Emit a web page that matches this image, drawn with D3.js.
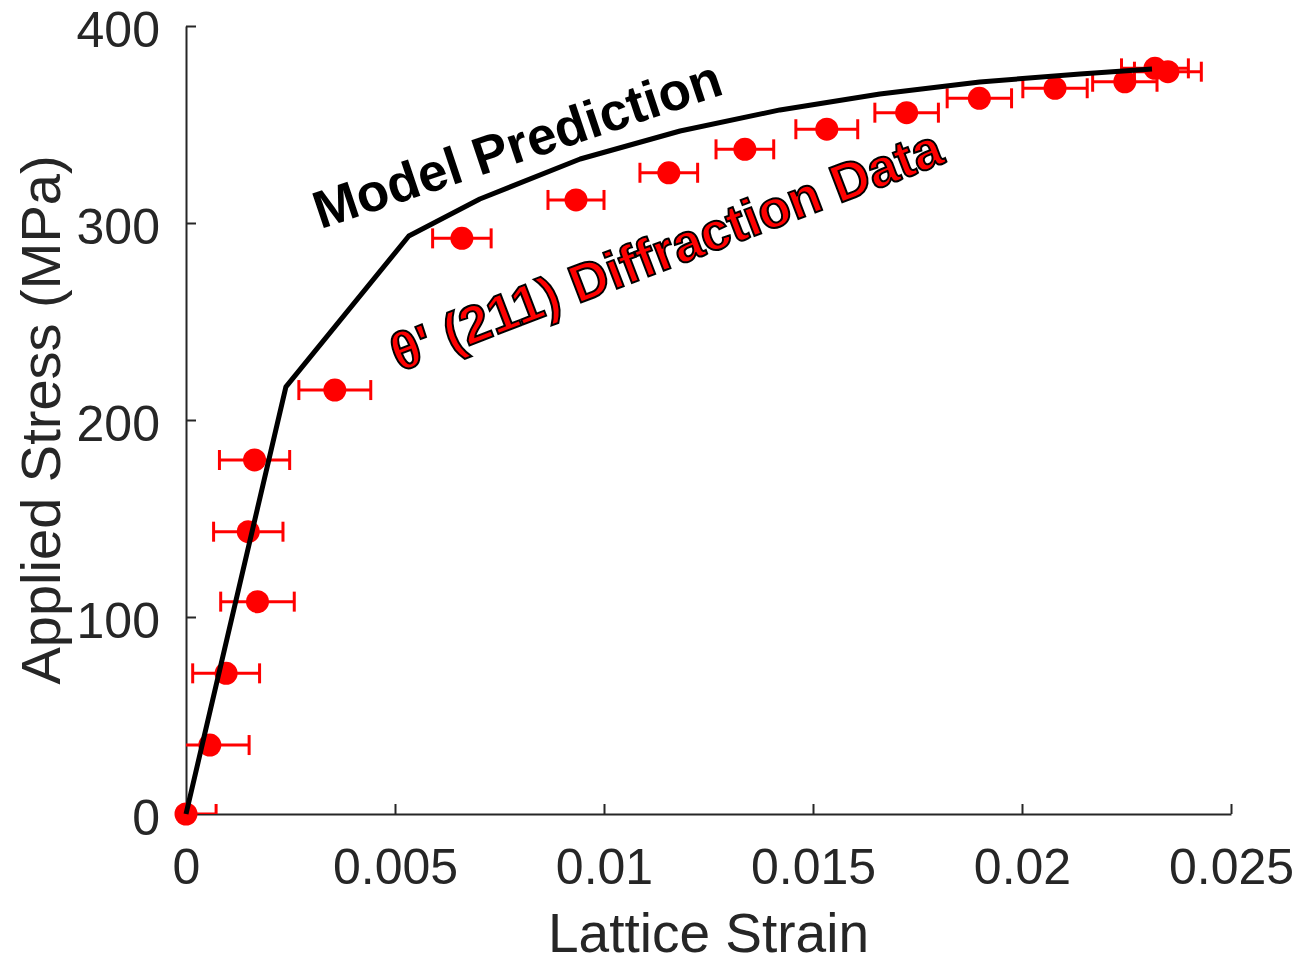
<!DOCTYPE html>
<html>
<head>
<meta charset="utf-8">
<script src="https://cdn.jsdelivr.net/npm/d3@7"></script>
<style>
  body { margin: 0; background: #fff; }
  svg { display: block; }
</style>
</head>
<body>
<svg id="chart" width="1301" height="964"></svg>
<script>
// diffraction data: lattice strain, applied stress (MPa), strain error
const strain = [0, 0.00057, 0.00096, 0.00171, 0.00149, 0.00164, 0.00356, 0.0066, 0.00933, 0.01155, 0.01337, 0.01533, 0.01724, 0.01898, 0.02079, 0.02246, 0.02318, 0.02349]
const stress = [0, 35, 71.4, 107.8, 143.3, 179.7, 215.2, 292.2, 311.7, 325.5, 337.4, 347.6, 356, 363.3, 368.4, 371.7, 378.5, 376.8]
const strainErr = [0.00072, 0.00094, 0.0008, 0.00088, 0.00083, 0.00084, 0.00086, 0.0007, 0.00067, 0.00069, 0.00069, 0.00074, 0.00076, 0.00077, 0.00077, 0.00077, 0.0008, 0.0008]

// model prediction curve
const modelStrain = [0, 0.00239, 0.00533, 0.00703, 0.00943, 0.01182, 0.01421, 0.0166, 0.01899, 0.02139, 0.02311]
const modelStress = [0, 216.8, 293.4, 312.2, 332.5, 346.7, 357.4, 365.5, 371.6, 375.6, 378.2]

const xTicks = [0, 0.005, 0.01, 0.015, 0.02, 0.025]
const xTickLabels = ["0", "0.005", "0.01", "0.015", "0.02", "0.025"]
const yTicks = [0, 100, 200, 300, 400]

const fontFamily = "'Liberation Sans', Arial, Helvetica, sans-serif"
const axisColor = "#262626"
const plotLeft = 186, plotRight = 1231, plotTop = 26, plotBottom = 814

const svg = d3.select("#chart")

const x = d3.scaleLinear().domain([0, 0.025]).range([plotLeft, plotRight])
const y = d3.scaleLinear().domain([0, 400]).range([plotBottom, plotTop])

svg.append("clipPath").attr("id", "plotclip")
  .append("rect")
  .attr("x", plotLeft).attr("y", 0)
  .attr("width", plotRight - plotLeft + 40).attr("height", plotBottom)

// axes
const xAxis = svg.append("g")
  .attr("transform", "translate(0," + plotBottom + ")")
  .call(d3.axisBottom(x).tickValues(xTicks).tickFormat((d, i) => xTickLabels[i])
    .tickSizeInner(-10).tickSizeOuter(0).tickPadding(34))

const yAxis = svg.append("g")
  .attr("transform", "translate(" + plotLeft + ",0)")
  .call(d3.axisLeft(y).tickValues(yTicks).tickFormat(d3.format("d"))
    .tickSizeInner(-10).tickSizeOuter(0).tickPadding(26))

yAxis.selectAll(".tick text").attr("dy", "0.4em")

for (const g of [xAxis, yAxis]) {
  g.select(".domain").attr("stroke", axisColor).attr("stroke-width", 2)
  g.selectAll(".tick line").attr("stroke", axisColor).attr("stroke-width", 2)
  g.selectAll(".tick text")
    .attr("fill", axisColor)
    .style("font-family", fontFamily)
    .style("font-size", "50px")
}

svg.append("text")
  .attr("x", (plotLeft + plotRight) / 2)
  .attr("y", 952)
  .attr("text-anchor", "middle")
  .attr("fill", axisColor)
  .style("font-family", fontFamily)
  .style("font-size", "55px")
  .text("Lattice Strain")

svg.append("text")
  .attr("transform", "translate(60," + 420 + ") rotate(-90)")
  .attr("text-anchor", "middle")
  .attr("fill", axisColor)
  .style("font-family", fontFamily)
  .style("font-size", "56px")
  .text("Applied Stress (MPa)")

// error bars (clipped at the axis like the original)
const capHalf = 10
const bars = svg.append("g")
  .attr("clip-path", "url(#plotclip)")
  .attr("stroke", "#ff0000")
  .attr("stroke-width", 3)

strain.forEach((s, i) => {
  const cy = y(stress[i])
  const x0 = x(s - strainErr[i]), x1 = x(s + strainErr[i])
  bars.append("line").attr("x1", x0).attr("x2", x1).attr("y1", cy).attr("y2", cy)
  bars.append("line").attr("x1", x0).attr("x2", x0).attr("y1", cy - capHalf).attr("y2", cy + capHalf)
  bars.append("line").attr("x1", x1).attr("x2", x1).attr("y1", cy - capHalf).attr("y2", cy + capHalf)
})

// markers
svg.append("g")
  .selectAll("circle")
  .data(strain)
  .join("circle")
  .attr("cx", d => x(d))
  .attr("cy", (d, i) => y(stress[i]))
  .attr("r", 11.5)
  .attr("fill", "#ff0000")

// model line
const line = d3.line()
  .x(d => x(d[0]))
  .y(d => y(d[1]))
  .curve(d3.curveLinear)

svg.append("path")
  .datum(modelStrain.map((s, i) => [s, modelStress[i]]))
  .attr("d", line)
  .attr("fill", "none")
  .attr("stroke", "#000")
  .attr("stroke-width", 5)
  .attr("stroke-linejoin", "round")

// annotations
svg.append("text")
  .attr("transform", "translate(517,144) rotate(-18.5)")
  .attr("text-anchor", "middle")
  .attr("dominant-baseline", "central")
  .attr("fill", "#000")
  .style("font-family", fontFamily)
  .style("font-weight", "bold")
  .style("font-size", "53px")
  .text("Model Prediction")

svg.append("text")
  .attr("transform", "translate(666,250) rotate(-21)")
  .attr("text-anchor", "middle")
  .attr("dominant-baseline", "central")
  .attr("fill", "#ff0000")
  .attr("stroke", "#000")
  .attr("stroke-width", 2)
  .style("font-family", fontFamily)
  .style("font-weight", "bold")
  .style("font-size", "53px")
  .text("θ' (211) Diffraction Data")
</script>
</body>
</html>
